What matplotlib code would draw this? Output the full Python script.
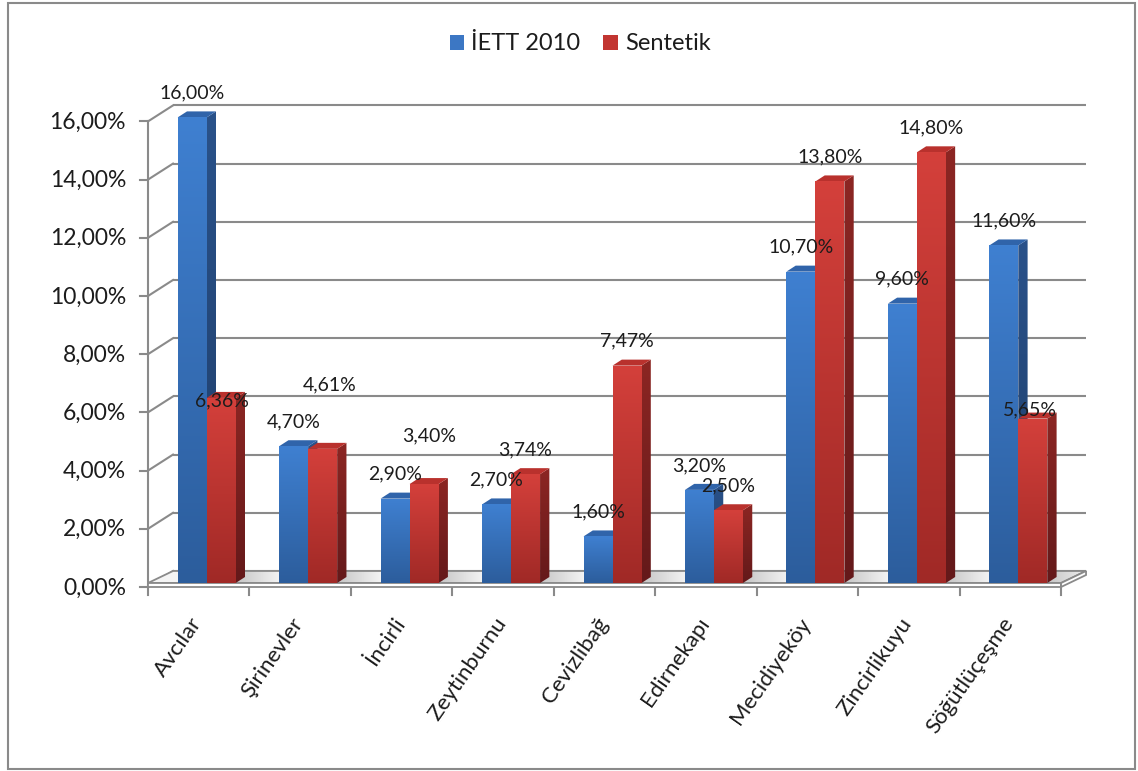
import numpy as np
import matplotlib
matplotlib.use("Agg")
import matplotlib.pyplot as plt
from matplotlib.patches import Polygon, Rectangle, Patch
from matplotlib.colors import to_rgb

# ---- data -------------------------------------------------------------
categories = ["Avcılar", "Şirinevler", "İncirli", "Zeytinburnu", "Cevizlibağ",
              "Edirnekapı", "Mecidiyeköy", "Zincirlikuyu", "Söğütlüçeşme"]
iett_2010 = [16.00, 4.70, 2.90, 2.70, 1.60, 3.20, 10.70, 9.60, 11.60]
sentetik = [6.36, 4.61, 3.40, 3.74, 7.47, 2.50, 13.80, 14.80, 5.65]
series_names = ["İETT 2010", "Sentetik"]
y_ticks = [0, 2, 4, 6, 8, 10, 12, 14, 16]

plt.rcParams["font.family"] = ["Lato", "DejaVu Sans"]

# ---- figure and pseudo-3D frame --------------------------------------
W, H = 1138, 771
fig = plt.figure(figsize=(W / 100, H / 100), dpi=100)
ax = fig.add_axes([0, 0, 1, 1])
ax.set_axis_off()
ax.set_autoscale_on(False)

SX = 101.45   # pixels per category on the front plane
SY = 29.1     # pixels per percentage point
X0, Y0 = 148, 587
ax.set_xlim(-X0 / SX, (W - X0) / SX)
ax.set_ylim(-(H - Y0) / SY, Y0 / SY)

n = len(categories)
DX, DY = 25 / SX, 16 / SY          # depth of the plot box
LIFT = 4 / SY                      # floor slab thickness
grid_c = "#8a8a8a"
text_c = "#1c1c1c"


def pxx(p):
    return p / SX


def pxy(p):
    return p / SY


def pct(v):
    return f"{v:.2f}%".replace(".", ",")


# back wall gridlines, side wall diagonals, axis ticks and labels
for v in y_ticks:
    ax.plot([DX, n + DX], [v + DY, v + DY], color=grid_c, lw=1.5, zorder=1,
            solid_capstyle="butt")
    ax.plot([0, DX], [v, v + DY], color=grid_c, lw=1.5, zorder=1)
    ax.plot([-pxx(8), 0], [v, v], color=grid_c, lw=1.5, zorder=1)
    ax.text(-pxx(22), v - pxy(1), pct(v), ha="right", va="center",
            fontsize=16.5, color=text_c)
ax.plot([0, 0], [0, y_ticks[-1]], color=grid_c, lw=1.5, zorder=1)

# floor slab
floor_top = [(0, LIFT), (n, LIFT), (n + DX, DY), (DX, DY)]
ax.add_patch(Polygon(floor_top, closed=True, facecolor="#f4f4f4",
                     edgecolor=grid_c, lw=1.3, zorder=2))
ax.add_patch(Polygon([(0, 0), (n, 0), (n, LIFT), (0, LIFT)], closed=True,
                     facecolor="white", edgecolor=grid_c, lw=1.3, zorder=2))
ax.add_patch(Polygon([(n, 0), (n + DX, DY - LIFT), (n + DX, DY), (n, LIFT)],
                     closed=True, facecolor="white", edgecolor=grid_c, lw=1.3,
                     zorder=2))
for i in range(n + 1):
    ax.plot([i, i], [0, -pxy(8)], color=grid_c, lw=1.5, zorder=1)

floor_clip = Polygon(floor_top, closed=True, transform=ax.transData,
                     facecolor="none", edgecolor="none")
ax.add_patch(floor_clip)

# ---- bars --------------------------------------------------------------
bar_w = 29 / SX
off0 = 29.7 / SX
bdx, bdy = 9.3 / SX, 6.0 / SY

styles = [
    dict(front=("#3F80D1", "#2C5D9C"), side=("#2A528A", "#1E3D69"), top="#3064AA"),
    dict(front=("#D4403B", "#A02926"), side=("#8C2623", "#64191A"), top="#B9312D"),
]


def gradient_poly(pts, c_top, c_bot, z):
    xs = [p[0] for p in pts]
    ys = [p[1] for p in pts]
    t = np.linspace(0, 1, 256)[:, None, None]
    ct, cb = np.array(to_rgb(c_top)), np.array(to_rgb(c_bot))
    img = cb + (ct - cb) * t
    im = ax.imshow(img, extent=(min(xs), max(xs), min(ys), max(ys)),
                   origin="lower", aspect="auto", zorder=z,
                   interpolation="bilinear")
    clip = Polygon(pts, closed=True, transform=ax.transData,
                   facecolor="none", edgecolor="none")
    ax.add_patch(clip)
    im.set_clip_path(clip)


# soft shadows on the floor to the right of each pair of bars
for i in range(n):
    xs0 = i + off0 + 2 * bar_w
    shade = np.zeros((1, 64, 4))
    shade[..., :3] = 0.55
    shade[..., 3] = np.linspace(0.45, 0.0, 64)
    im = ax.imshow(shade, extent=(xs0, xs0 + pxx(45), LIFT, DY),
                   origin="lower", aspect="auto", zorder=3,
                   interpolation="bilinear")
    im.set_clip_path(floor_clip)

label_nudge = {  # (series, category): (dx px, dy px)
    (1, 0): (1, -27),
    (1, 1): (7, 39.5),
    (1, 2): (5, 23.5),
    (1, 8): (-3, -15.5),
}

for i in range(n):
    for s, vals in enumerate([iett_2010, sentetik]):
        v = vals[i]
        st = styles[s]
        x0 = i + off0 + s * bar_w
        x1 = x0 + bar_w
        y0, y1 = LIFT, LIFT + v
        z = 10 + i + s * 0.5
        side = [(x1, y0), (x1 + bdx, y0 + bdy), (x1 + bdx, y1 + bdy), (x1, y1)]
        top = [(x0, y1), (x1, y1), (x1 + bdx, y1 + bdy), (x0 + bdx, y1 + bdy)]
        front = [(x0, y0), (x1, y0), (x1, y1), (x0, y1)]
        gradient_poly(side, st["side"][0], st["side"][1], z)
        ax.add_patch(Polygon(top, closed=True, facecolor=st["top"],
                             edgecolor="none", zorder=z + 0.1))
        gradient_poly(front, st["front"][0], st["front"][1], z + 0.2)

        ndx, ndy = label_nudge.get((s, i), (0, 0))
        ax.text((x0 + x1) / 2 + pxx(ndx), y1 + pxy(24.5 + ndy), pct(v),
                ha="center", va="center", fontsize=14, color=text_c,
                zorder=40)

# category labels
for i, name in enumerate(categories):
    ax.text(i + 0.5 - pxx(9), -pxy(27), name, rotation=55,
            rotation_mode="anchor", ha="right", va="top", fontsize=16,
            color=text_c)

# legend
handles = [Patch(facecolor="#3C77C4", edgecolor="none"),
           Patch(facecolor="#C23531", edgecolor="none")]
ax.legend(handles, series_names, loc="center", ncols=2,
          bbox_to_anchor=(580 / W, 1 - 44 / H), bbox_transform=fig.transFigure,
          frameon=False, fontsize=17, handlelength=0.6, handleheight=0.6,
          handletextpad=0.3, columnspacing=1.0, labelcolor=text_c)

# chart border
fig.add_artist(Rectangle((8 / W, 2 / H), (1135 - 8) / W, (769 - 3) / H,
                         transform=fig.transFigure, fill=False,
                         edgecolor="#8a8a8a", lw=1.5))

fig.savefig("out.png", dpi=100, facecolor="white")
